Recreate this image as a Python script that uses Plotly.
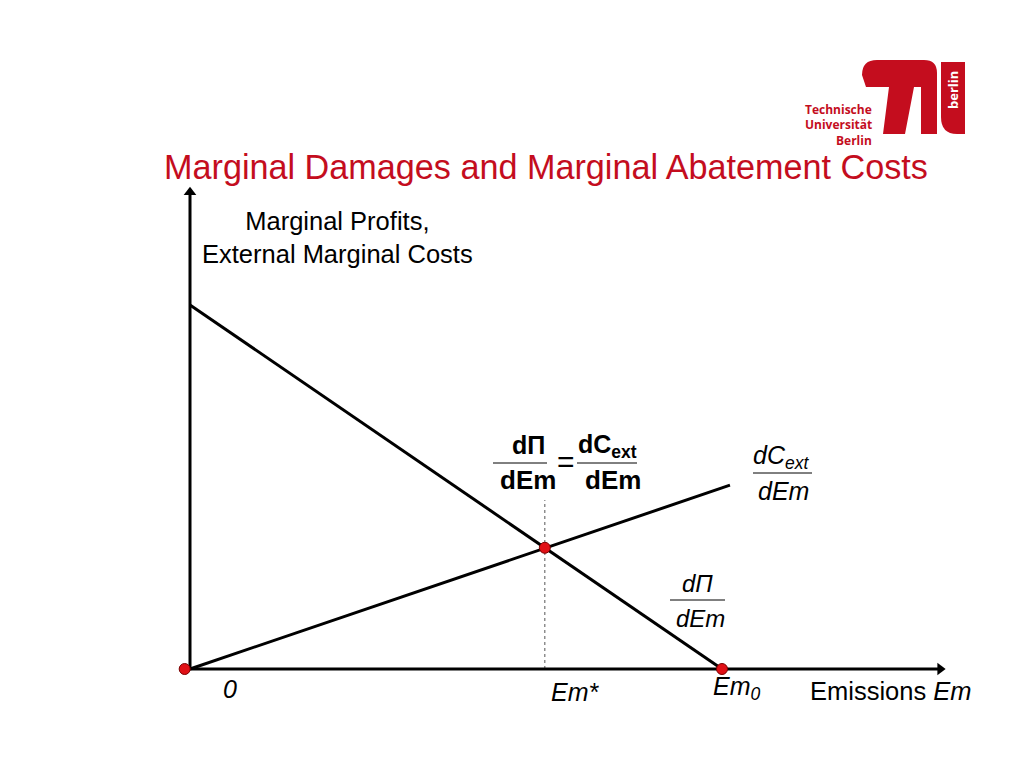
import plotly.graph_objects as go

# ---- data (economic units) ----
mp_x = [0, 10]          # marginal profits dΠ/dEm
mp_y = [10, 0]
mc_x = [0, 10.15]       # external marginal costs dC_ext/dEm
mc_y = [0, 5.05]
pts_x = [-0.1, 6.67, 10]  # origin, optimum Em*, Em0
pts_y = [0, 3.33, 0]
em_star = 6.67
dot_top = 4.64
x_axis_end = 14.1
y_axis_end = 13.1

# page geometry (the page body has an 8px margin)
OFF = 8
W, H = 1024 - OFF, 768 - OFF
X0, Y0, SX, SY = 190, 669, 53.2, 36.4   # page pixel of origin, pixels per unit
RED = "#c40d1e"
FONT = "Liberation Sans, Arial, sans-serif"

fig = go.Figure()

fig.add_trace(go.Scatter(x=[em_star, em_star], y=[0, dot_top], mode="lines",
                         line=dict(color="#555555", width=1, dash="dot"), hoverinfo="skip"))
# axes with arrow heads
fig.add_trace(go.Scatter(x=[0, x_axis_end], y=[0, 0], mode="lines", line=dict(color="black", width=3)))
fig.add_trace(go.Scatter(x=[0, 0], y=[0, y_axis_end], mode="lines", line=dict(color="black", width=3)))
fig.add_trace(go.Scatter(x=[x_axis_end], y=[0], mode="markers",
                         marker=dict(symbol="triangle-right", size=11, color="black")))
fig.add_trace(go.Scatter(x=[0], y=[y_axis_end], mode="markers",
                         marker=dict(symbol="triangle-up", size=11, color="black")))

fig.add_trace(go.Scatter(x=mp_x, y=mp_y, mode="lines", line=dict(color="black", width=3)))
fig.add_trace(go.Scatter(x=mc_x, y=mc_y, mode="lines", line=dict(color="black", width=3)))
fig.add_trace(go.Scatter(x=pts_x, y=pts_y, mode="markers",
                         marker=dict(size=11, color="#e01016", line=dict(color="#7a0000", width=1))))


def P(x, y):
    return (x - OFF) / W, 1 - (y - OFF) / H


def txt(x, y, s, size=24, color="black", xanchor="center", family=FONT, **kw):
    px, py = P(x, y)
    fig.add_annotation(x=px, y=py, xref="paper", yref="paper", text=s, showarrow=False,
                       xanchor=xanchor, yanchor="middle",
                       font=dict(size=size, color=color, family=family), **kw)


def hline(x0, x1, y):
    fig.add_shape(type="line", xref="x2", yref="y2", x0=x0, x1=x1, y0=y, y1=y,
                  line=dict(color="black", width=1))


# title
txt(546, 167, "Marginal Damages and Marginal Abatement Costs", size=34.2, color=RED)
# y label
txt(337, 237, "Marginal Profits,<br>External Marginal Costs", size=25.5)
# x labels
txt(230, 689, "<i>0</i>", size=25)
txt(575, 692, "<i>Em*</i>", size=25)
txt(737, 688, "<i>Em<sub>0</sub></i>", size=25)
txt(891, 691, "Emissions <i>Em</i>", size=25.5)

# curve labels
txt(781, 457, "<i>dC<sub>ext</sub></i>", size=25)
hline(753, 812, 473)
txt(783, 491, "<i>dEm</i>", size=25)

txt(697, 583, "<i>dΠ</i>", size=24)
hline(670, 725, 600)
txt(700, 618, "<i>dEm</i>", size=24)

# optimum condition
txt(528, 445, "<b>dΠ</b>", size=25)
hline(493, 547, 463)
txt(528, 480, "<b>dEm</b>", size=26)
txt(566, 461, "=", size=30)
txt(607, 446, "<b>dC<sub>ext</sub></b>", size=25)
hline(577, 637, 463)
txt(613, 480, "<b>dEm</b>", size=26)

# logo
fig.add_shape(type="path", xref="x2", yref="y2", fillcolor=RED, line=dict(width=0),
              path="M 862,75 Q 862,60 877,60 L 924,60 Q 937,60 937,73 L 937,134 L 921,134 "
                   "L 921,87 L 914,87 L 905,134 L 883,134 L 889,87 L 866,87 Z")
fig.add_shape(type="path", xref="x2", yref="y2", fillcolor=RED, line=dict(width=0),
              path="M 941,62 L 965,62 L 965,134 L 957,134 Q 941,134 941,117 Z")
txt(953, 90, "<b>berlin</b>", size=13, color="white", family="Open Sans", textangle=-90)
txt(874, 109, "<b>Technische</b>", size=12, color=RED, xanchor="right", family="Open Sans")
txt(874, 125, "<b>Universität</b>", size=12, color=RED, xanchor="right", family="Open Sans")
txt(874, 140, "<b>Berlin</b>", size=12, color=RED, xanchor="right", family="Open Sans")

fig.update_layout(
    width=W, height=H, margin=dict(l=0, r=0, t=0, b=0),
    paper_bgcolor="white", plot_bgcolor="white", showlegend=False,
    xaxis=dict(range=[(OFF - X0) / SX, (1024 - X0) / SX], visible=False, fixedrange=True),
    yaxis=dict(range=[-(768 - Y0) / SY, (Y0 - OFF) / SY], visible=False, fixedrange=True),
    xaxis2=dict(range=[OFF, 1024], visible=False, overlaying="x", fixedrange=True),
    yaxis2=dict(range=[768, OFF], visible=False, overlaying="y", fixedrange=True),
)
# invisible trace to activate the overlay axes used for the page decorations
fig.add_trace(go.Scatter(x=[OFF], y=[OFF], xaxis="x2", yaxis="y2", mode="markers",
                         marker=dict(size=1, opacity=0), hoverinfo="skip"))

fig.write_html("out.html", config={"displayModeBar": False})
